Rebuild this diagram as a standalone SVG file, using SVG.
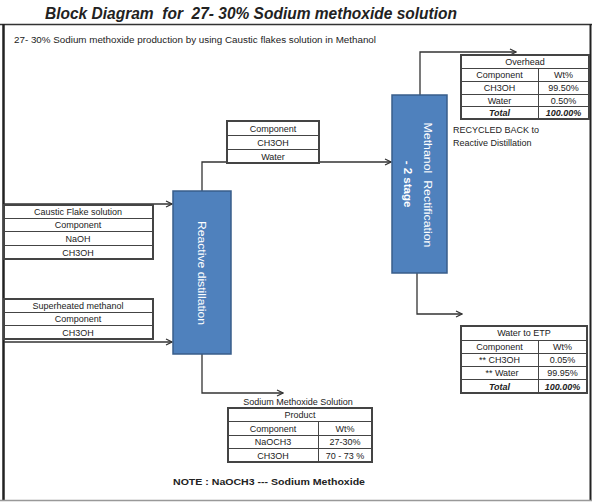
<svg xmlns="http://www.w3.org/2000/svg" width="592" height="502" viewBox="0 0 592 502">
<defs>
<marker id="arr" markerWidth="8" markerHeight="8" refX="7" refY="4" orient="auto" markerUnits="userSpaceOnUse">
<path d="M1,1 L7,4 L1,7" fill="none" stroke="#333" stroke-width="1.2"/>
</marker>
<style>
text{font-family:"Liberation Sans",Arial,sans-serif;fill:#222;}
.t{font-size:9px;text-anchor:middle;}
.b{font-weight:bold;}
.bi{font-weight:bold;font-style:italic;}
.tbl{fill:#fff;stroke:#444;stroke-width:2;}
.ln{stroke:#444;stroke-width:1;fill:none;}
.blk{fill:#4F81BD;stroke:#385D8A;stroke-width:1.5;}
.wt{fill:#fff;font-size:11.5px;text-anchor:middle;}
.con{stroke:#333;stroke-width:1.3;fill:none;marker-end:url(#arr);}
</style>
</defs>
<rect width="592" height="502" fill="#fff"/>
<text x="251" y="19" font-size="16.5" class="bi" text-anchor="middle" style="white-space:pre" textLength="412" lengthAdjust="spacingAndGlyphs">Block Diagram  for  27- 30% Sodium methoxide solution</text>
<g id="frame">
<line x1="0" y1="24.5" x2="592" y2="24.5" stroke="#333" stroke-width="1.5"/>
<line x1="3.5" y1="24" x2="3.5" y2="500" stroke="#222" stroke-width="2.5"/>
<line x1="590.5" y1="24" x2="590.5" y2="500" stroke="#222" stroke-width="2"/>
<line x1="0" y1="500.5" x2="592" y2="500.5" stroke="#999" stroke-width="1.5"/>
</g>
<text x="14" y="43" font-size="8.5" textLength="362" lengthAdjust="spacingAndGlyphs">27- 30% Sodium methoxide production by using Caustic flakes solution in Methanol</text>

<g id="connectors">
<path class="con" d="M4,204 H172"/>
<path class="con" d="M4,342 H172"/>
<path class="con" d="M202,191 V162 H391"/>
<path class="con" d="M202,354 V393 H283"/>
<path class="con" d="M420,95 V52 H516"/>
<path class="con" d="M417,273 V314 H462"/>
</g>

<g id="reactive-distillation">
<rect class="blk" x="173" y="191" width="58" height="163"/>
<text class="wt" transform="translate(202,273) rotate(90)" y="4" textLength="104" lengthAdjust="spacingAndGlyphs">Reactive distillation</text>
</g>

<g id="methanol-rectification">
<rect class="blk" x="392" y="95" width="55" height="178"/>
<text class="wt" transform="translate(428,185) rotate(90)" y="4" style="white-space:pre" textLength="125" lengthAdjust="spacingAndGlyphs">Methanol  Rectification</text>
<text class="wt b" transform="translate(408,184) rotate(90)" y="4">- 2 stage</text>
</g>

<g id="caustic-flake-solution">
<rect class="tbl" x="4" y="205" width="149" height="54"/>
<path class="ln" d="M4,218.5 H153 M4,231.5 H153 M4,245.5 H153"/>
<text class="t" x="78" y="215">Caustic Flake solution</text>
<text class="t" x="78" y="228">Component</text>
<text class="t" x="78" y="241.5">NaOH</text>
<text class="t" x="78" y="255.5">CH3OH</text>
</g>

<g id="superheated-methanol">
<rect class="tbl" x="4" y="299" width="149" height="40"/>
<path class="ln" d="M4,312.5 H153 M4,325.5 H153"/>
<text class="t" x="78" y="309">Superheated methanol</text>
<text class="t" x="78" y="322">Component</text>
<text class="t" x="78" y="335.5">CH3OH</text>
</g>

<g id="vapour-stream">
<rect class="tbl" x="227" y="121" width="92" height="42"/>
<path class="ln" d="M227,135.5 H319 M227,149.5 H319"/>
<text class="t" x="273" y="131.5">Component</text>
<text class="t" x="273" y="145.5">CH3OH</text>
<text class="t" x="273" y="159.5">Water</text>
</g>

<g id="overhead">
<rect class="tbl" x="461" y="55" width="128" height="64"/>
<path class="ln" d="M461,68.5 H589 M461,81.5 H589 M461,94.5 H589 M461,106.5 H589 M538.5,68 V119"/>
<text class="t" x="525" y="65">Overhead</text>
<text class="t" x="499.5" y="78">Component</text>
<text class="t" x="563.5" y="78">Wt%</text>
<text class="t" x="499.5" y="91">CH3OH</text>
<text class="t" x="563.5" y="91">99.50%</text>
<text class="t" x="499.5" y="103.5">Water</text>
<text class="t" x="563.5" y="103.5">0.50%</text>
<text class="t bi" x="499.5" y="116">Total</text>
<text class="t bi" x="563.5" y="116">100.00%</text>
</g>
<text x="453" y="133" font-size="9">RECYCLED BACK to</text>
<text x="453" y="146" font-size="9">Reactive Distillation</text>

<g id="water-to-etp">
<rect class="tbl" x="461" y="326" width="126" height="67"/>
<path class="ln" d="M461,340.5 H587 M461,353.5 H587 M461,366.5 H587 M461,379.5 H587 M538.5,340 V393"/>
<text class="t" x="524" y="336">Water to ETP</text>
<text class="t" x="499.5" y="350">Component</text>
<text class="t" x="562.5" y="350">Wt%</text>
<text class="t" x="499.5" y="363">** CH3OH</text>
<text class="t" x="562.5" y="363">0.05%</text>
<text class="t" x="502" y="376">** Water</text>
<text class="t" x="562.5" y="376">99.95%</text>
<text class="t bi" x="499.5" y="389.5">Total</text>
<text class="t bi" x="562.5" y="389.5">100.00%</text>
</g>

<g id="sodium-methoxide-solution">
<text class="t" x="298" y="405">Sodium Methoxide Solution</text>
<rect class="tbl" x="228" y="408" width="144" height="54"/>
<path class="ln" d="M228,421.5 H372 M228,435.5 H372 M228,448.5 H372 M318.5,421 V462"/>
<text class="t" x="300" y="418">Product</text>
<text class="t" x="273" y="432">Component</text>
<text class="t" x="345" y="432">Wt%</text>
<text class="t" x="273" y="445">NaOCH3</text>
<text class="t" x="345" y="445">27-30%</text>
<text class="t" x="273" y="458.5">CH3OH</text>
<text class="t" x="345" y="458.5">70 - 73 %</text>
</g>
<text x="173" y="485" font-size="8.5" class="b" textLength="192" lengthAdjust="spacingAndGlyphs">NOTE : NaOCH3 --- Sodium Methoxide</text>
</svg>
